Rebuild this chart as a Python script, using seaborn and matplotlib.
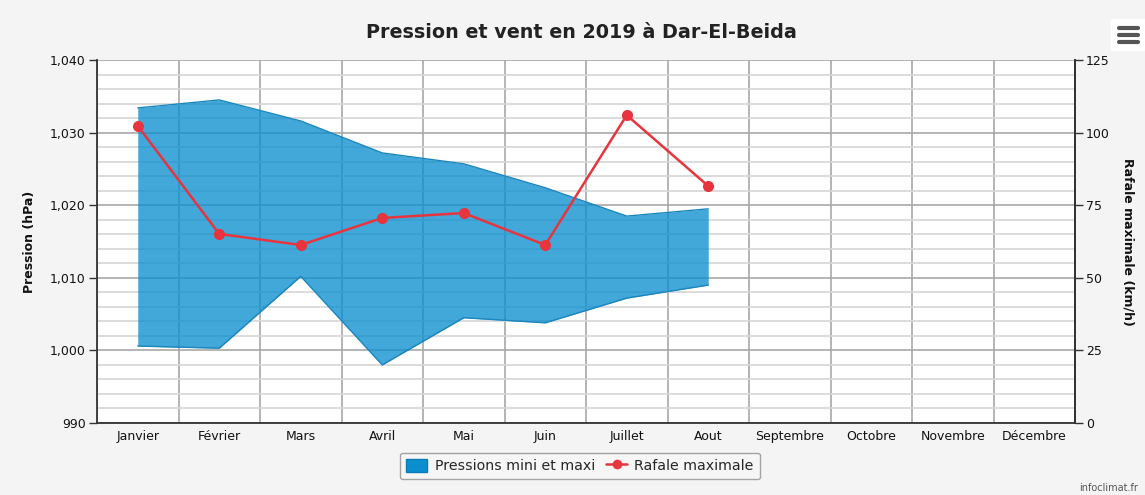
import matplotlib
matplotlib.use("Agg")
import matplotlib.pyplot as plt
import seaborn as sns
import pandas as pd
import numpy as np
from matplotlib.patches import FancyBboxPatch, Patch
from matplotlib.lines import Line2D

months = ["Janvier", "Février", "Mars", "Avril", "Mai", "Juin", "Juillet", "Aout",
          "Septembre", "Octobre", "Novembre", "Décembre"]
p_max = [1033.4, 1034.5, 1031.6, 1027.2, 1025.7, 1022.4, 1018.5, 1019.5]
p_min = [1000.6, 1000.3, 1010.2, 998.0, 1004.5, 1003.8, 1007.2, 1009.0]
rafale = [102.3, 65.1, 61.3, 70.6, 72.3, 61.3, 106.0, 81.6]
left_ticks = [990, 1000, 1010, 1020, 1030, 1040]
right_ticks = [0, 25, 50, 75, 100, 125]

df = pd.DataFrame({
    "pos": np.arange(len(p_max)),
    "mois": months[:len(p_max)],
    "pmax": p_max,
    "pmin": p_min,
    "rafale": rafale,
})

sns.set_theme(style="white")
plt.rcParams["font.family"] = ["DejaVu Sans"]

fig = plt.figure(figsize=(11.45, 4.95), dpi=100)
fig.patch.set_facecolor("#f4f4f4")
ax = fig.add_axes([97/1145, 1-423/495, (1075-97)/1145, (423-60)/495])
ax.set_facecolor("white")

# grid
ax.set_ylim(990, 1040)
ax.set_xlim(-0.5, 11.5)
ax.set_yticks(left_ticks)
ax.set_yticks(np.arange(990, 1041, 2), minor=True)
ax.set_xticks(np.arange(12))
ax.set_xticks(np.arange(-0.5, 12, 1), minor=True)
ax.grid(which="minor", axis="y", color="#d6d6d6", linewidth=1.2)
ax.grid(which="major", axis="y", color="#a8a8a8", linewidth=1.2)
ax.grid(which="minor", axis="x", color="#a8a8a8", linewidth=1.2)
ax.grid(which="major", axis="x", visible=False)
ax.set_axisbelow(True)

blue = "#0d8ecf"
ax.fill_between(df["pos"], df["pmin"], df["pmax"], color=blue, alpha=0.78,
                linewidth=0, zorder=2)
sns.lineplot(data=df, x="pos", y="pmax", ax=ax, color="#1a86bd", linewidth=1.0, zorder=3)
sns.lineplot(data=df, x="pos", y="pmin", ax=ax, color="#1a86bd", linewidth=1.0, zorder=3)

ax.set_xticklabels(months, fontsize=9, color="#111111")
ax.set_yticklabels([f"{v:,}" for v in left_ticks], fontsize=9, color="#111111")
ax.tick_params(axis="x", which="major", length=0, pad=5)
ax.tick_params(axis="x", which="minor", length=5, width=1, color="#333333", direction="out")
ax.tick_params(axis="y", which="major", length=6, width=1, color="#333333", direction="out", pad=2)
ax.tick_params(axis="y", which="minor", length=0)
ax.set_xlabel("")
ax.set_ylabel("Pression (hPa)", fontsize=9, fontweight="bold", color="#111111", labelpad=10)

for s in ["top"]:
    ax.spines[s].set_visible(False)
ax.spines["left"].set_color("#333333")
ax.spines["bottom"].set_color("#333333")
ax.spines["right"].set_color("#333333")
for s in ["left", "bottom", "right"]:
    ax.spines[s].set_linewidth(1.3)

ax2 = ax.twinx()
ax2.set_ylim(0, 125)
ax2.set_yticks(right_ticks)
sns.lineplot(data=df, x="pos", y="rafale", ax=ax2, color="#e8343c", linewidth=1.8,
             marker="o", markersize=8, markeredgewidth=0, zorder=5)
ax2.set_yticklabels([str(v) for v in right_ticks], fontsize=9, color="#111111")
ax2.tick_params(axis="y", length=6, width=1, color="#333333", direction="out", pad=2)
ax2.set_ylabel("Rafale maximale (km/h)", fontsize=9, fontweight="bold", color="#111111",
               rotation=270, labelpad=18)
ax2.spines["top"].set_visible(False)
ax2.spines["right"].set_color("#333333")
ax2.spines["right"].set_linewidth(1.3)
ax2.spines["left"].set_visible(False)
ax2.spines["bottom"].set_visible(False)
ax2.set_xlim(-0.5, 11.5)
ax2.set_xlabel("")

fig.text(581/1145, 1-33/495, "Pression et vent en 2019 à Dar-El-Beida", ha="center", va="center",
         fontsize=13.8, fontweight="bold", color="#222222")

handles = [Patch(facecolor=blue, edgecolor="#0a7bb5"),
           Line2D([0], [0], color="#e8343c", linewidth=1.8, marker="o", markersize=7,
                  markeredgewidth=0)]
leg = fig.legend(handles, ["Pressions mini et maxi", "Rafale maximale"],
                 loc="center", bbox_to_anchor=(580/1145, 1-466/495), ncol=2,
                 fontsize=10.2, frameon=True, fancybox=True, handlelength=1.5,
                 handleheight=1.0, handletextpad=0.5, columnspacing=0.8, borderpad=0.45)
leg.get_frame().set_edgecolor("#909090")
leg.get_frame().set_facecolor("#f7f7f7")
leg.get_frame().set_linewidth(1.0)

fig.text(1138/1145, 1-488/495, "infoclimat.fr", ha="right", va="center", fontsize=7, color="#555555")

# menu icon
icon = FancyBboxPatch((1113/1145, 1-50/495), 30/1145, 30/495, boxstyle="round,pad=0.002",
                      transform=fig.transFigure, facecolor="white", edgecolor="none")
fig.patches.append(icon)
for yy in [28, 35, 42]:
    fig.add_artist(Line2D([1119/1145, 1138/1145], [1-yy/495, 1-yy/495], color="#555555",
                          linewidth=3, solid_capstyle="round", transform=fig.transFigure))

fig.savefig("out.png", dpi=100, facecolor=fig.get_facecolor())
